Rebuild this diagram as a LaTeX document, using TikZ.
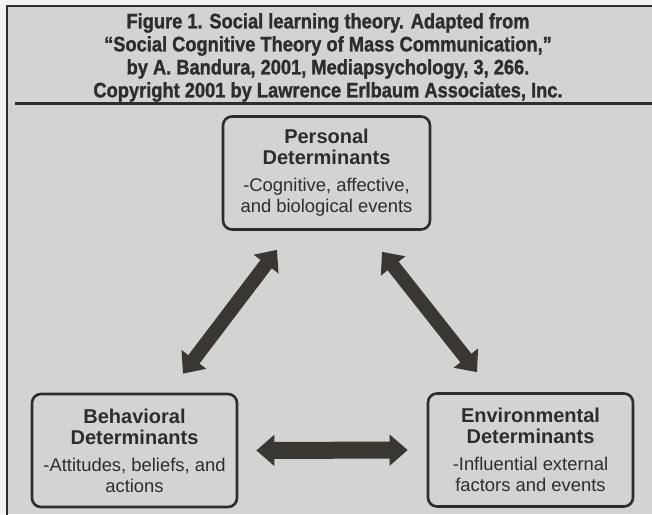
\documentclass[tikz,border=0pt]{standalone}
\usepackage{fontspec}
\setmainfont{Liberation Sans}
\newfontfamily\captionfont[FakeStretch=0.87, BoldFeatures={FakeBold=1.2}]{Liberation Sans}
\usetikzlibrary{arrows.meta, calc}
\definecolor{panelgray}{HTML}{D3D3D1}
\definecolor{pagewhite}{HTML}{F3F3F3}
\definecolor{inkdark}{HTML}{2D2D2B}
\definecolor{arrowdark}{HTML}{3A3733}

\newcommand{\headline}[1]{{\fontsize{20}{21}\selectfont\bfseries #1}}

\begin{document}
\begin{tikzpicture}[
    x=1pt, y=1pt,
    % Determinant boxes
    detbox/.style={
        draw=inkdark, line width=2.6pt,
        rectangle, rounded corners=9pt,
        minimum width=205pt, minimum height=113pt,
        align=center, text=inkdark,
        font=\fontsize{18.4}{21}\selectfont
    },
    % Figure caption
    caption/.style={
        align=center, text=inkdark,
        font=\captionfont\fontsize{21}{23}\selectfont\bfseries
    },
    % Thick double-headed arrow
    twoway/.style={
        draw=arrowdark, line width=14pt,
        {Triangle[width=30pt, length=18pt]}-{Triangle[width=30pt, length=18pt]}
    }
]
\useasboundingbox (0,0) rectangle (652,514);

% Panel and frame
\fill[pagewhite] (0,0) rectangle (652,514);
\fill[panelgray] (7,0) rectangle (652,508);
\draw[inkdark, line width=1.8pt] (7,-5) -- (7,508) -- (660,508);
\draw[inkdark, line width=3pt] (15,410) -- (660,410);

% Caption
\node[caption] (caption) at (328,456.5) {Figure 1. Social learning theory. Adapted from\\
    “Social Cognitive Theory of Mass Communication,”\\
    by A. Bandura, 2001, Mediapsychology, 3, 266.\\
    Copyright 2001 by Lawrence Erlbaum Associates, Inc.};

% Determinants
\node[detbox, minimum width=207pt] (personal) at (326.5,341) {\headline{Personal}\\
    \headline{Determinants}\\[6pt]
    -Cognitive, affective,\\
    and biological events};
\node[detbox] (behavioral) at (134.5,63.5) {\headline{Behavioral}\\
    \headline{Determinants}\\[6pt]
    -Attitudes, beliefs, and\\
    actions};
\node[detbox] (environmental) at (530.5,64) {\headline{Environmental}\\
    \headline{Determinants}\\[6pt]
    -Influential external\\
    factors and events};

% Arrow ends
\coordinate (pers-left) at ($(personal.south)+(-49.5,-19)$);
\coordinate (pers-right) at ($(personal.south)+(55.5,-21)$);
\coordinate (beh-top) at ($(behavioral.north)+(48.5,19)$);
\coordinate (env-top) at ($(environmental.north)+(-53.5,20)$);

% Arrows
\draw[twoway] (beh-top) -- (pers-left);
\draw[twoway] (pers-right) -- (env-top);
\draw[twoway, line width=17pt, shorten <=18pt, shorten >=19pt] (behavioral.east) -- (environmental.west);

\end{tikzpicture}
\end{document}
